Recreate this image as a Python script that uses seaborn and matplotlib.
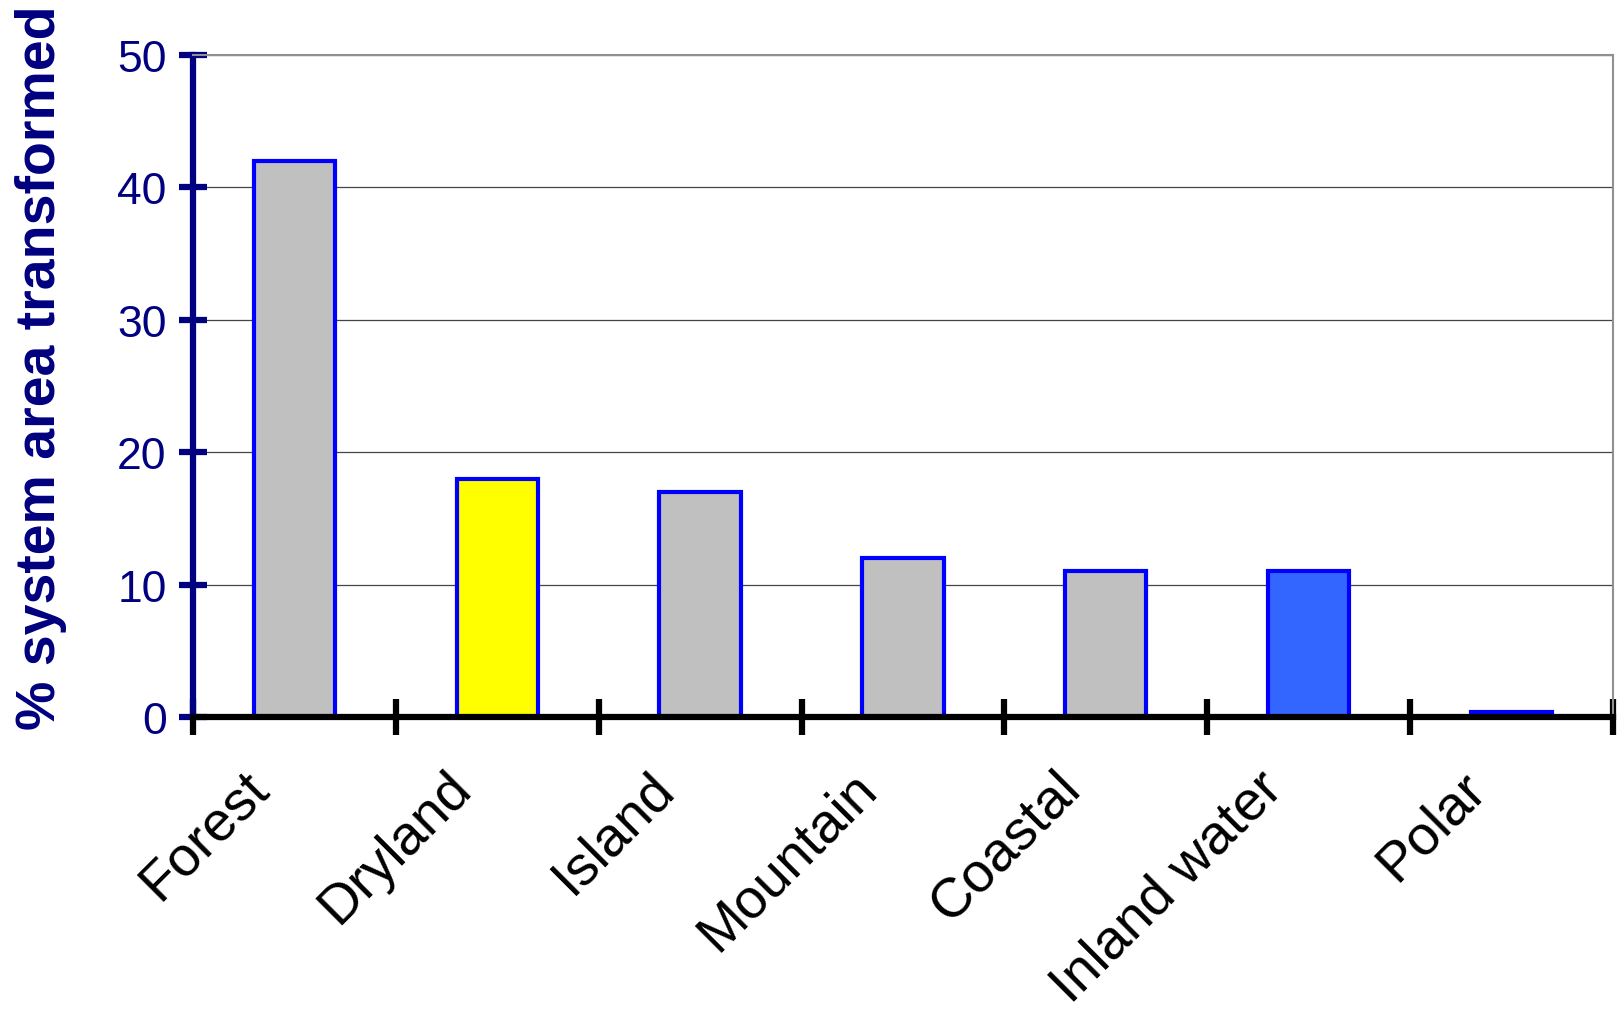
import matplotlib
matplotlib.use("Agg")
import matplotlib.pyplot as plt
import matplotlib.transforms as mtransforms
import seaborn as sns
import pandas as pd
import numpy as np

categories = ["Forest", "Dryland", "Island", "Mountain", "Coastal", "Inland water", "Polar"]
values = [42, 18, 17, 12, 11, 11, 0.4]
fill_colors = ["#C0C0C0", "#FFFF00", "#C0C0C0", "#C0C0C0", "#C0C0C0", "#3366FF", "#C0C0C0"]
y_ticks = [0, 10, 20, 30, 40, 50]
y_label = "% system area transformed"

sns.set_style("white")
plt.rcParams['font.family'] = ['Liberation Sans', 'DejaVu Sans']

df = pd.DataFrame({"category": categories, "value": values})
palette = dict(zip(categories, fill_colors))

fig = plt.figure(figsize=(16.17, 10.12), dpi=100)
ax = fig.add_axes([0.1193, 0.2905, 0.8782, 0.6542])

sns.barplot(data=df, x="category", y="value", hue="category", palette=palette,
            legend=False, width=0.4, edgecolor="#0000FF", linewidth=3, saturation=1, ax=ax)

ax.set_xlim(-0.5, len(categories) - 0.5)
ax.set_ylim(0, 50)
ax.set_yticks(y_ticks)
ax.set_yticklabels([str(t) for t in y_ticks], color="#000080", fontsize=32)
ax.yaxis.grid(True, color="#444444", linewidth=0.9)
ax.set_axisbelow(True)

ax.set_xticks(range(len(categories)))
ax.set_xticklabels(categories, rotation=45, ha="right", rotation_mode="anchor",
                   fontsize=40, color="black")
ax.tick_params(axis="x", which="major", length=0, pad=32, bottom=True)
offset = mtransforms.ScaledTranslation(-52 / 100, 0, fig.dpi_scale_trans)
for lab in ax.get_xticklabels():
    lab.set_transform(lab.get_transform() + offset)
ax.set_xticks(np.arange(-0.5, len(categories), 1.0), minor=True)
ax.tick_params(axis="x", which="minor", direction="inout", length=26, width=4.5,
               color="black", bottom=True)

ax.tick_params(axis="y", which="major", direction="inout", length=20, width=4.5,
               color="#000080", pad=9, left=True)

ax.set_xlabel("")
ax.set_ylabel(y_label, color="#000080", fontsize=40, fontweight="bold")
ax.yaxis.set_label_coords(-0.089, 0.529)

ax.spines["left"].set_color("#000080")
ax.spines["left"].set_linewidth(4.5)
ax.spines["bottom"].set_color("black")
ax.spines["bottom"].set_linewidth(4.5)
ax.spines["bottom"].set_zorder(5)
for side in ["top", "right"]:
    ax.spines[side].set_color("#909090")
    ax.spines[side].set_linewidth(1.5)

fig.savefig("out.png", dpi=100)
